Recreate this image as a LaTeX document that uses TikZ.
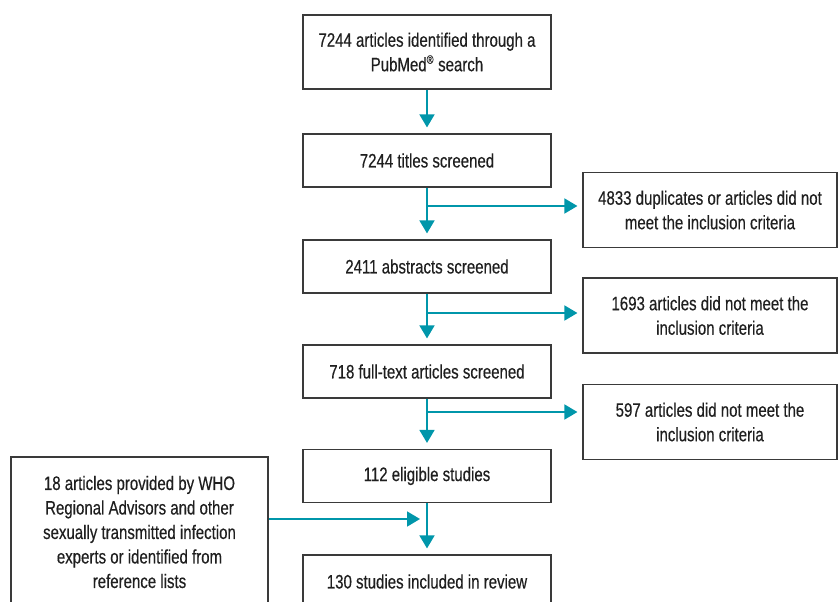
\documentclass[tikz,border=0pt]{standalone}
\usepackage{fontspec}
\setmainfont[FakeStretch=0.77,FakeBold=0.4]{Liberation Sans}
\usetikzlibrary{arrows.meta}
\definecolor{teal}{HTML}{0096AA}
\definecolor{boxline}{HTML}{3A3A3A}
\begin{document}
\begin{tikzpicture}[x=1pt,y=-1pt,
  box/.style={draw=boxline, line width=1.2pt, align=center, inner sep=0pt,
    font=\fontsize{19.5}{24.5}\selectfont, text=black!88},
  link/.style={draw=teal, line width=1.8pt, -{Triangle[length=13pt,width=15pt]}}]
\useasboundingbox (0,0) rectangle (838,602);
\clip (0,0) rectangle (838,602);
\node[box, minimum width=248pt, minimum height=74pt] (box0) at (427,52){7244 articles identified through a\\PubMed\textsuperscript{\fontsize{12}{12}\selectfont ®} search};
\node[box, minimum width=248pt, minimum height=53pt] (box1) at (427,160.5){7244 titles screened};
\node[box, minimum width=248pt, minimum height=53pt] (box2) at (427,266.5){2411 abstracts screened};
\node[box, minimum width=248pt, minimum height=53pt] (box3) at (427,371.5){718 full-text articles screened};
\node[box, minimum width=248pt, minimum height=53pt] (box4) at (427,476){112 eligible studies};
\node[box, minimum width=248pt, minimum height=53pt] (box5) at (427,581.5){130 studies included in review};
\node[box, minimum width=254pt, minimum height=75pt] (excl1) at (710,210){4833 duplicates or articles did not\\meet the inclusion criteria};
\node[box, minimum width=254pt, minimum height=75pt] (excl2) at (710,315.5){1693 articles did not meet the\\inclusion criteria};
\node[box, minimum width=254pt, minimum height=75pt] (excl3) at (710,422){597 articles did not meet the\\inclusion criteria};
\node[box, minimum width=257pt, minimum height=150pt] (extra) at (139.5,532){18 articles provided by WHO\\Regional Advisors and other\\sexually transmitted infection\\experts or identified from\\reference lists};
\coordinate (b1) at (427,206);
\coordinate (b2) at (427,313);
\coordinate (b3) at (427,412);
\coordinate (b4) at (427,519);
\draw[link, shorten >=6pt] (box0) -- (box1);
\draw[link, shorten >=6pt] (box1) -- (box2);
\draw[link, shorten >=6pt] (box2) -- (box3);
\draw[link, shorten >=6pt] (box3) -- (box4);
\draw[link, shorten >=6pt] (box4) -- (box5);
\draw[link, shorten >=5pt] (b1) -- (excl1.west |- b1);
\draw[link, shorten >=5pt] (b2) -- (excl2.west |- b2);
\draw[link, shorten >=5pt] (b3) -- (excl3.west |- b3);
\draw[link, shorten >=7pt] (extra.east |- b4) -- (b4);
\end{tikzpicture}
\end{document}
